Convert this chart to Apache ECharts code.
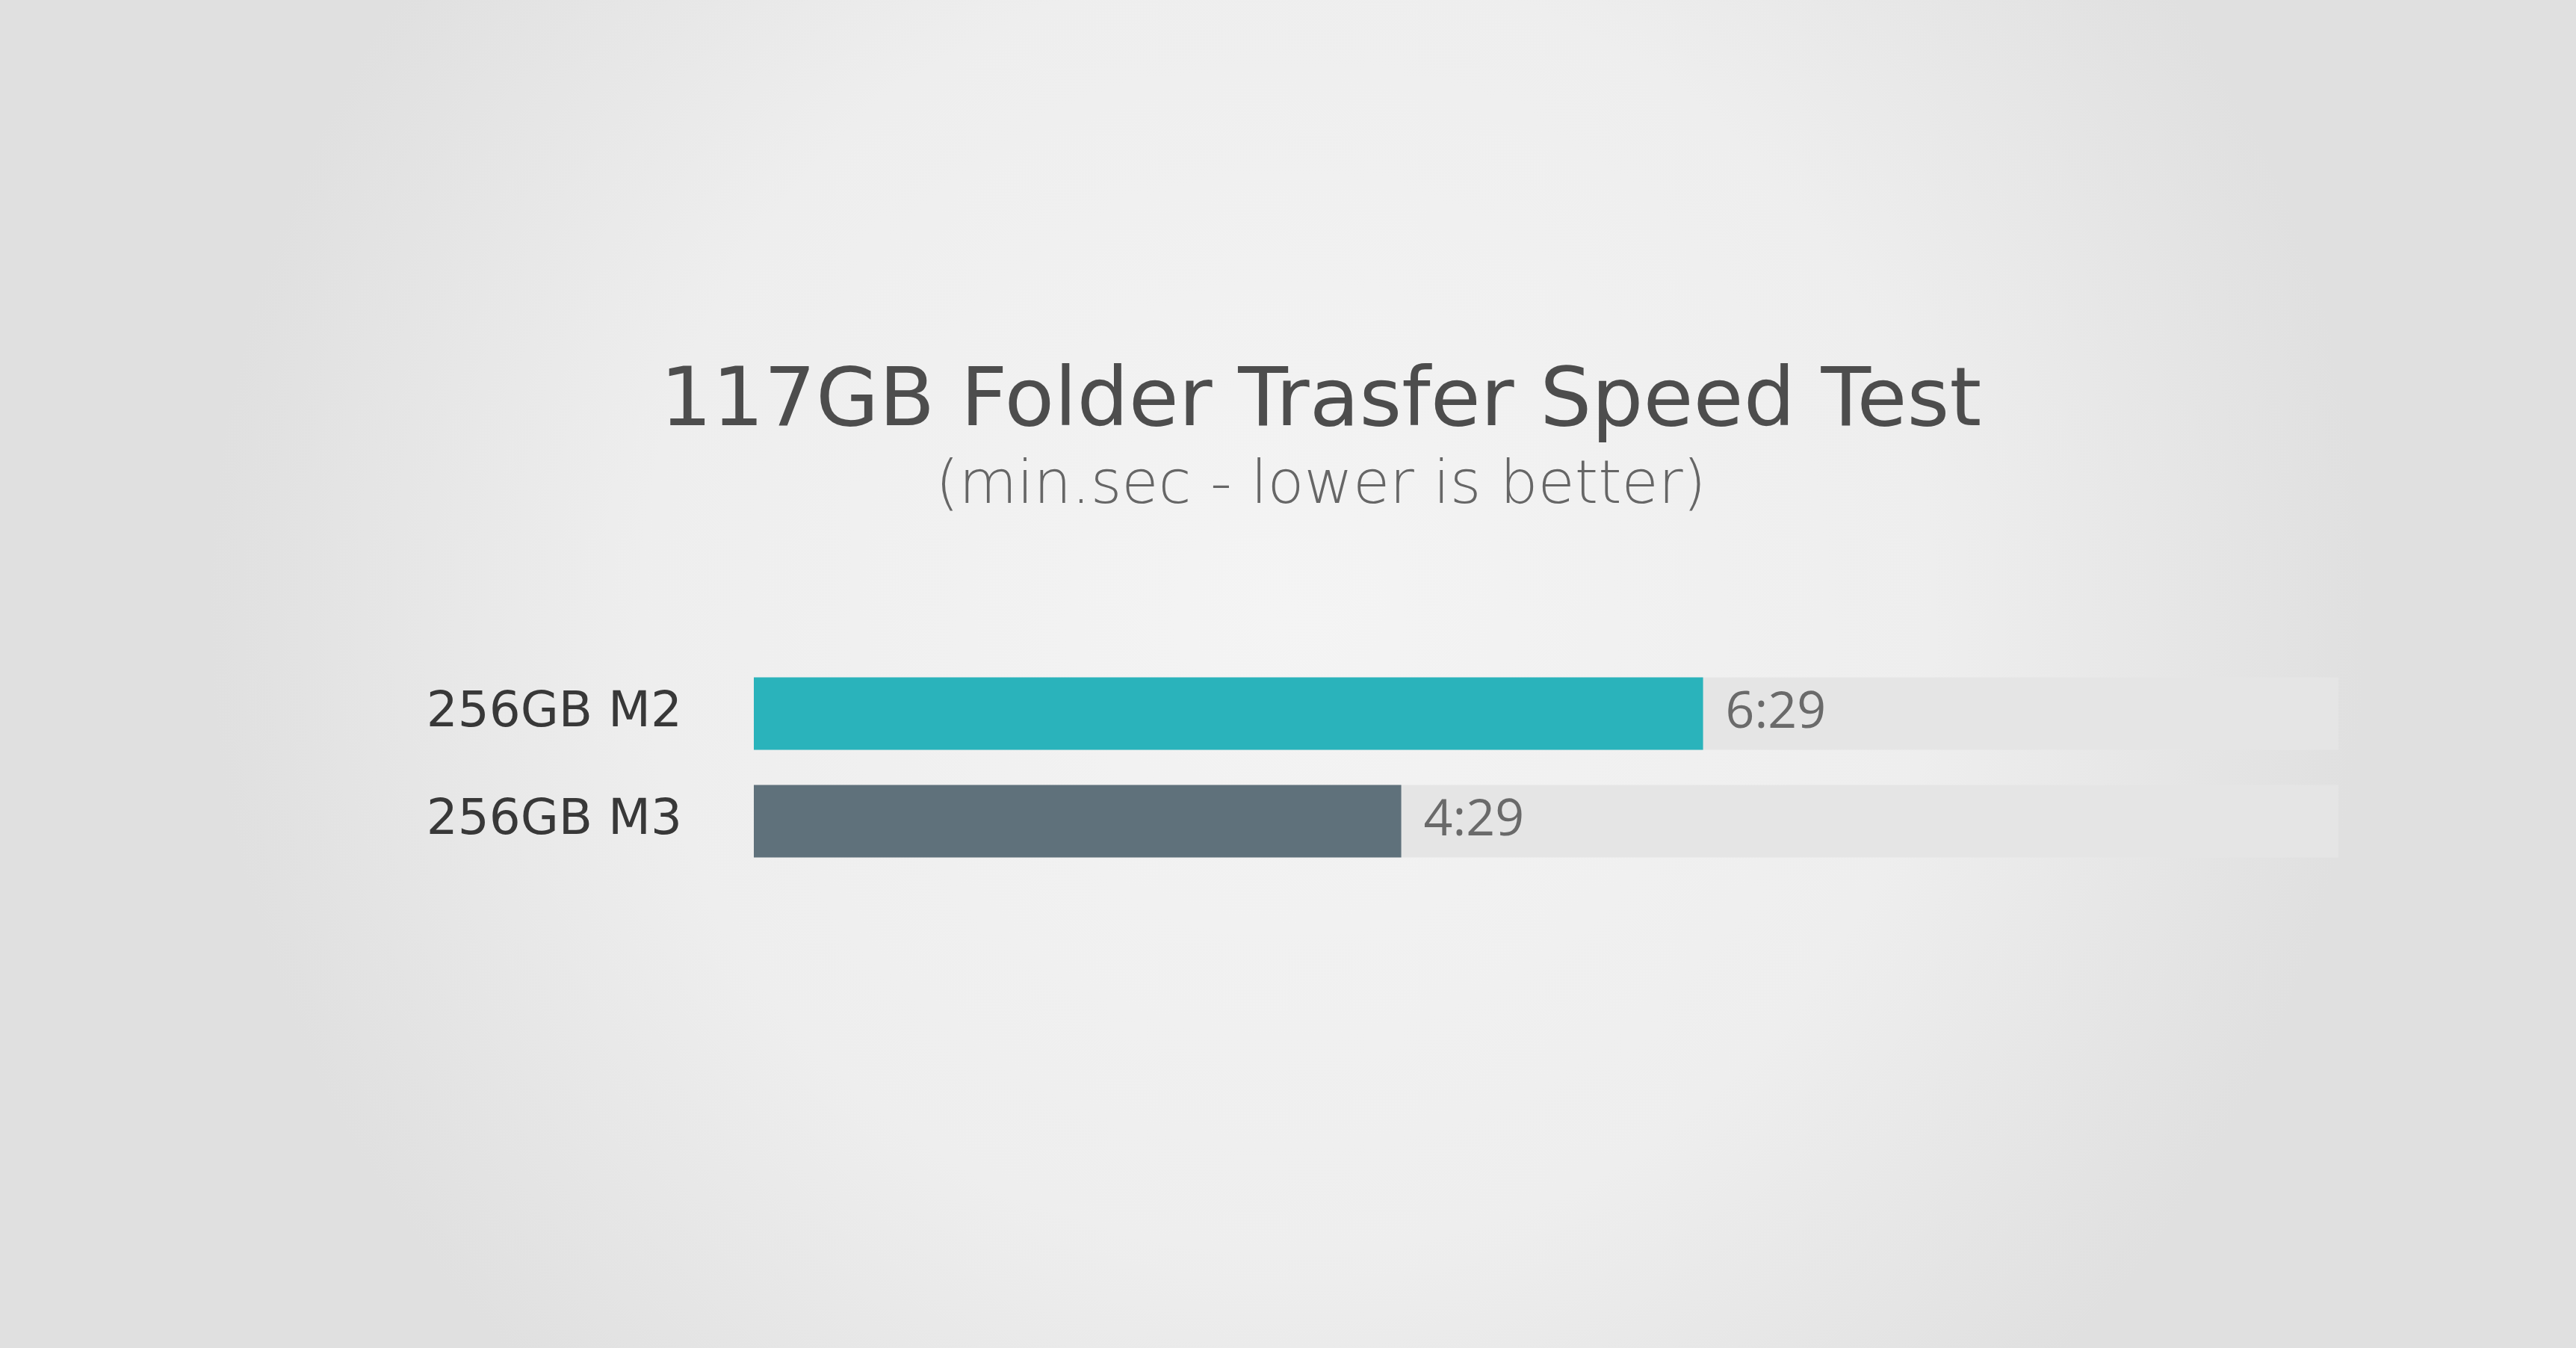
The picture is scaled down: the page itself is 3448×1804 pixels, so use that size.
<!DOCTYPE html>
<html>
<head>
<meta charset="utf-8">
<script src="https://cdn.jsdelivr.net/npm/echarts@6/dist/echarts.min.js"></script>
<style>
html,body{margin:0;padding:0;width:3448px;height:1804px;overflow:hidden;background:#ececec;}
#chart{width:3448px;height:1804px;}
</style>
</head>
<body>
<div id="chart"></div>
<script>
const titleText = '117GB Folder Trasfer Speed Test';
const subtitleText = '(min.sec - lower is better)';
const categories = ['256GB M2', '256GB M3'];
const values = [6.29, 4.29];
const barColors = ['#2ab3bb', '#5f717b'];
const axisMax = 10.5;

const FONT = '"DejaVu Sans", "Open Sans", sans-serif';
const chart = echarts.init(document.getElementById('chart'));
chart.setOption({
  backgroundColor: {
    type: 'radial', x: 0.5, y: 0.45, r: 0.8,
    colorStops: [
      { offset: 0, color: '#f4f4f4' },
      { offset: 0.6, color: '#eeeeee' },
      { offset: 1, color: '#e0e0e0' }
    ]
  },
  title: [{
    text: titleText,
    left: 1763,
    textAlign: 'center',
    top: 481,
    textStyle: { fontFamily: FONT, fontWeight: 400, fontSize: 109, color: '#4d4d4d' }
  }, {
    text: subtitleText,
    left: 1763,
    textAlign: 'center',
    top: 607,
    textStyle: { fontFamily: FONT, fontWeight: 200, fontSize: 80, color: '#666666' }
  }],
  grid: { left: 1009, right: 318, top: 883, bottom: 633, containLabel: false },
  xAxis: {
    type: 'value', min: 0, max: axisMax,
    show: false
  },
  yAxis: {
    type: 'category',
    data: categories,
    inverse: true,
    axisLine: { show: false },
    axisTick: { show: false },
    splitLine: { show: false },
    axisLabel: {
      margin: 96,
      fontFamily: FONT,
      fontWeight: 400,
      fontSize: 66,
      color: '#383838'
    }
  },
  series: [{
    type: 'bar',
    barWidth: 97,
    data: values.map((v, i) => ({ value: v, itemStyle: { color: barColors[i] } })),
    showBackground: true,
    backgroundStyle: { color: '#e5e5e5' },
    label: {
      show: true,
      position: 'right',
      distance: 30,
      fontFamily: '"Open Sans", sans-serif',
      fontWeight: 400,
      fontSize: 68,
      color: '#6a6a6a',
      formatter: p => p.value.toFixed(2).replace('.', ':')
    },
    animation: false
  }],
  animation: false
});
</script>
</body>
</html>
